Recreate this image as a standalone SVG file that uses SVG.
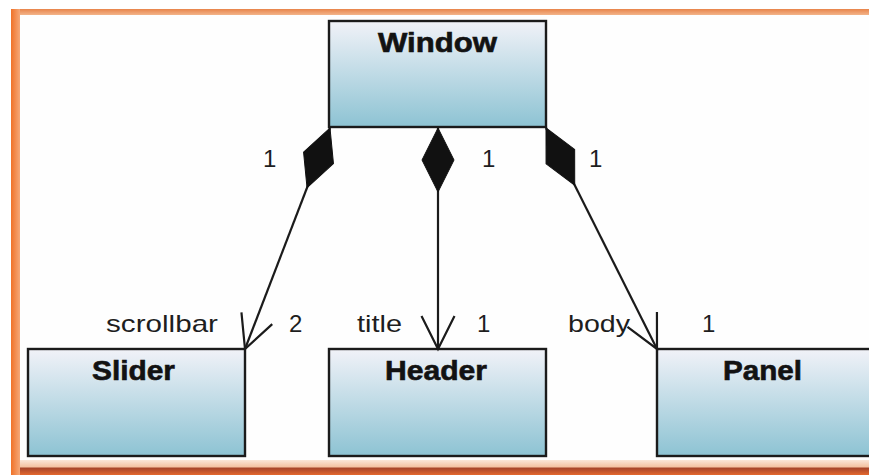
<svg xmlns="http://www.w3.org/2000/svg" width="869" height="475" viewBox="0 0 869 475">
  <style>
    .cls { stroke: #1b1b1b; stroke-width: 2.4; fill: url(#clsFill); }
    .title { font-family: "Liberation Sans", Arial, sans-serif; font-weight: bold; font-size: 27px; fill: #121212; stroke: #121212; stroke-width: 0.6; }
    .lbl { font-family: "Liberation Sans", Arial, sans-serif; font-size: 24px; fill: #1e1e1e; }
    .assoc { stroke: #1b1b1b; stroke-width: 2.2; fill: none; marker-start: url(#diamond); marker-end: url(#openArrow); }
  </style>
  <defs>
    <linearGradient id="clsFill" x1="0" y1="0" x2="0" y2="1">
      <stop offset="0" stop-color="#f1f2f8"/>
      <stop offset="1" stop-color="#8dc3d3"/>
    </linearGradient>
    <linearGradient id="topBand" x1="0" y1="0" x2="0" y2="1">
      <stop offset="0" stop-color="#e8844a"/>
      <stop offset="1" stop-color="#f3b48a"/>
    </linearGradient>
    <linearGradient id="leftBand" x1="0" y1="0" x2="1" y2="0">
      <stop offset="0" stop-color="#f07228"/>
      <stop offset="1" stop-color="#f5a878"/>
    </linearGradient>
    <linearGradient id="bottomBand" x1="0" y1="0" x2="0" y2="1">
      <stop offset="0" stop-color="#fbe6d8"/>
      <stop offset="0.45" stop-color="#f4c2a2"/>
      <stop offset="0.55" stop-color="#a8452a"/>
      <stop offset="1" stop-color="#e4682e"/>
    </linearGradient>
    <!-- filled composition diamond at the owning end -->
    <marker id="diamond" markerUnits="userSpaceOnUse" orient="auto" refX="0" refY="0" markerWidth="80" markerHeight="40" overflow="visible">
      <path d="M0,0 L32,-16 L64,0 L32,16 Z" fill="#111" stroke="#111" stroke-width="1"/>
    </marker>
    <!-- open navigability arrow at the part end -->
    <marker id="openArrow" markerUnits="userSpaceOnUse" orient="auto" refX="0" refY="0" markerWidth="40" markerHeight="40" overflow="visible">
      <path d="M-33,-16.5 L0,0 L-33,16.5" fill="none" stroke="#1b1b1b" stroke-width="2.2"/>
    </marker>
  </defs>

  <!-- frame -->
  <rect x="0" y="0" width="869" height="475" fill="#ffffff"/>
  <rect x="11" y="9" width="858" height="6" fill="url(#topBand)"/>
  <rect x="11" y="9" width="9" height="466" fill="url(#leftBand)"/>
  <rect x="20" y="460" width="849" height="15" fill="url(#bottomBand)"/>
  <rect x="20" y="15" width="849" height="445" fill="#fefefe"/>

  <!-- classes -->
  <g id="window">
    <rect class="cls" x="329" y="21" width="217" height="106"/>
    <text class="title" x="378" y="52" textLength="119" lengthAdjust="spacingAndGlyphs">Window</text>
  </g>
  <g id="slider">
    <rect class="cls" x="28" y="349" width="217" height="107"/>
    <text class="title" x="92" y="380" textLength="83" lengthAdjust="spacingAndGlyphs">Slider</text>
  </g>
  <g id="header">
    <rect class="cls" x="329" y="349" width="217" height="107"/>
    <text class="title" x="385" y="380" textLength="102" lengthAdjust="spacingAndGlyphs">Header</text>
  </g>
  <g id="panel">
    <rect class="cls" x="657" y="349" width="217" height="107"/>
    <text class="title" x="723" y="380" textLength="79" lengthAdjust="spacingAndGlyphs">Panel</text>
  </g>

  <!-- associations -->
  <g id="connectors">
    <path class="assoc" d="M330,128 L245,349"/>
    <path class="assoc" d="M438,128 L438,349"/>
    <path class="assoc" d="M546,128 L657,349"/>

    <text class="lbl" x="263" y="167">1</text>
    <text class="lbl" x="482" y="167">1</text>
    <text class="lbl" x="589" y="167">1</text>

    <text class="lbl" x="106" y="332" textLength="112" lengthAdjust="spacingAndGlyphs">scrollbar</text>
    <text class="lbl" x="289" y="332">2</text>
    <text class="lbl" x="357" y="332" textLength="45" lengthAdjust="spacingAndGlyphs">title</text>
    <text class="lbl" x="477" y="332">1</text>
    <text class="lbl" x="568" y="332" textLength="62" lengthAdjust="spacingAndGlyphs">body</text>
    <text class="lbl" x="702" y="332">1</text>
  </g>
</svg>
